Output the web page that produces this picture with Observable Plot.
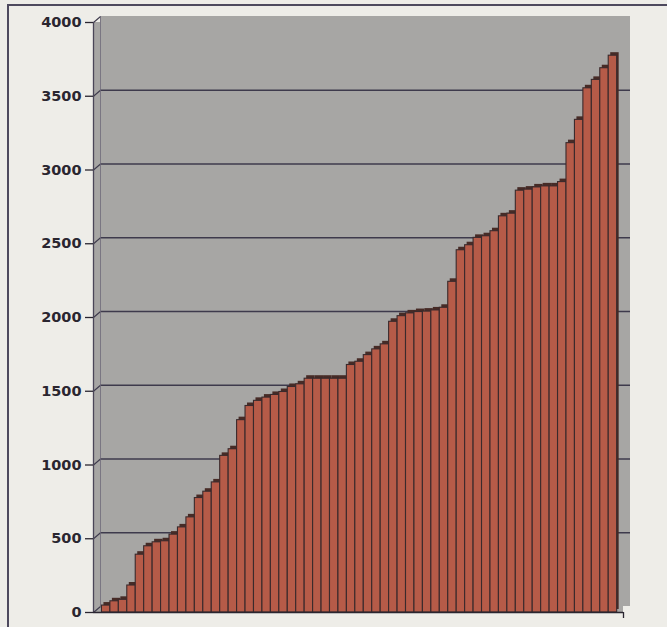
<!DOCTYPE html>
<html>
<head>
<meta charset="utf-8">
<script src="https://cdn.jsdelivr.net/npm/d3@7"></script>
<script src="https://cdn.jsdelivr.net/npm/@observablehq/plot@0.6"></script>
<style>
  html, body { margin: 0; padding: 0; background: #eeede8; }
  #wrap { position: relative; width: 667px; height: 627px; overflow: hidden; }
  #frame { position: absolute; left: 7px; top: 4px; width: 700px; height: 700px;
           border-top: 2px solid #4e4a5e; border-left: 2px solid #4e4a5e; }
  #chart { position: absolute; left: 0; top: 0; }
</style>
</head>
<body>
<div id="wrap"><div id="frame"></div><div id="chart"></div></div>
<script>
// Bar values, sorted ascending
const values = [
  47, 76, 86, 183, 392, 449, 476, 483, 528, 577,
  645, 776, 819, 882, 1062, 1107, 1304, 1400, 1435, 1457,
  1475, 1495, 1529, 1547, 1585, 1585, 1585, 1585, 1585, 1678,
  1700, 1745, 1784, 1818, 1971, 2009, 2028, 2037, 2040, 2048,
  2066, 2242, 2456, 2490, 2540, 2551, 2585, 2686, 2704, 2860,
  2867, 2882, 2889, 2889, 2918, 3182, 3340, 3554, 3611, 3690, 3775
];
const categories = values.map((_, i) => i);
const yTicks = [0, 500, 1000, 1500, 2000, 2500, 3000, 3500, 4000];
const gridTicks = [500, 1000, 1500, 2000, 2500, 3000, 3500];

const bars = categories.map((c, i) => ({ c, v: values[i] }));

const W = 667, H = 627;
const mL = 93, mR = 44, mT = 22, mB = 15;
const xDomain = [-1, categories.length + 0.75];
const yDomain = [0, 4000];
const kx = (W - mL - mR) / (xDomain[1] - xDomain[0]);
const ky = (H - mT - mB) / (yDomain[1] - yDomain[0]);
const DX = 7, DY = 6;       // depth of back wall (px)
const BX = 2, BY = 3;       // depth of bars (px)

const wallFill = "#a7a6a4";
const gridColor = "#3e3a4c";
const barFill = "#b65b48";
const barDark = "#472b26";
const ink = "#2a2630";

const chart = Plot.plot({
  width: W, height: H,
  marginLeft: mL, marginRight: mR, marginTop: mT, marginBottom: mB,
  style: { background: "transparent", overflow: "visible" },
  x: { type: "linear", domain: xDomain, axis: null },
  y: { domain: yDomain, axis: null },
  marks: [
    // wall: front plane and back plane
    Plot.rect([0], { x1: xDomain[0], x2: xDomain[1], y1: 0, y2: 4000, fill: wallFill }),
    Plot.rect([0], { x1: xDomain[0], x2: xDomain[1], y1: 0, y2: 4000, fill: wallFill, dx: DX, dy: -DY }),
    // back-wall gridlines
    Plot.ruleY(gridTicks, { x1: xDomain[0], x2: xDomain[1], dx: DX, dy: -DY, stroke: gridColor, strokeWidth: 1.3 }),
    // side-wall connectors
    Plot.link(yTicks, { x1: xDomain[0], y1: d => d, x2: xDomain[0] + DX / kx, y2: d => d + DY / ky,
                        stroke: gridColor, strokeWidth: 1.1 }),
    // back corner line
    Plot.ruleX([xDomain[0]], { y1: 0, y2: 4000, dx: DX, dy: -DY, stroke: "#6e6a7a", strokeWidth: 0.8 }),
    // bar depth (top + right faces)
    Plot.rect(bars, { x1: d => d.c, x2: d => d.c + 1, y1: 0, y2: "v", dx: BX, dy: -BY, fill: barDark }),
    // bar fronts
    Plot.rect(bars, { x1: d => d.c, x2: d => d.c + 1, y1: 0, y2: "v", fill: barFill,
                      stroke: "#3a2a2c", strokeWidth: 1.1 }),
    // axes
    Plot.ruleX([xDomain[0]], { y1: 0, y2: 4000, stroke: "#4a4658", strokeWidth: 1.3 }),
    Plot.ruleY([0], { x1: xDomain[0], x2: xDomain[1], stroke: ink, strokeWidth: 1.6 }),
    Plot.axisY({ ticks: yTicks, tickSize: 8, tickPadding: 4, tickFormat: d => String(d),
                 fontSize: 14.5, fontWeight: "bold", fontFamily: "DejaVu Sans, Arial, sans-serif",
                 color: ink, label: null, strokeWidth: 1.3 }),
    Plot.axisX({ ticks: [xDomain[1]], tickSize: 6, tickFormat: () => "", label: null,
                 color: ink, strokeWidth: 1.3 })
  ]
});
document.getElementById("chart").appendChild(chart);
</script>
</body>
</html>
